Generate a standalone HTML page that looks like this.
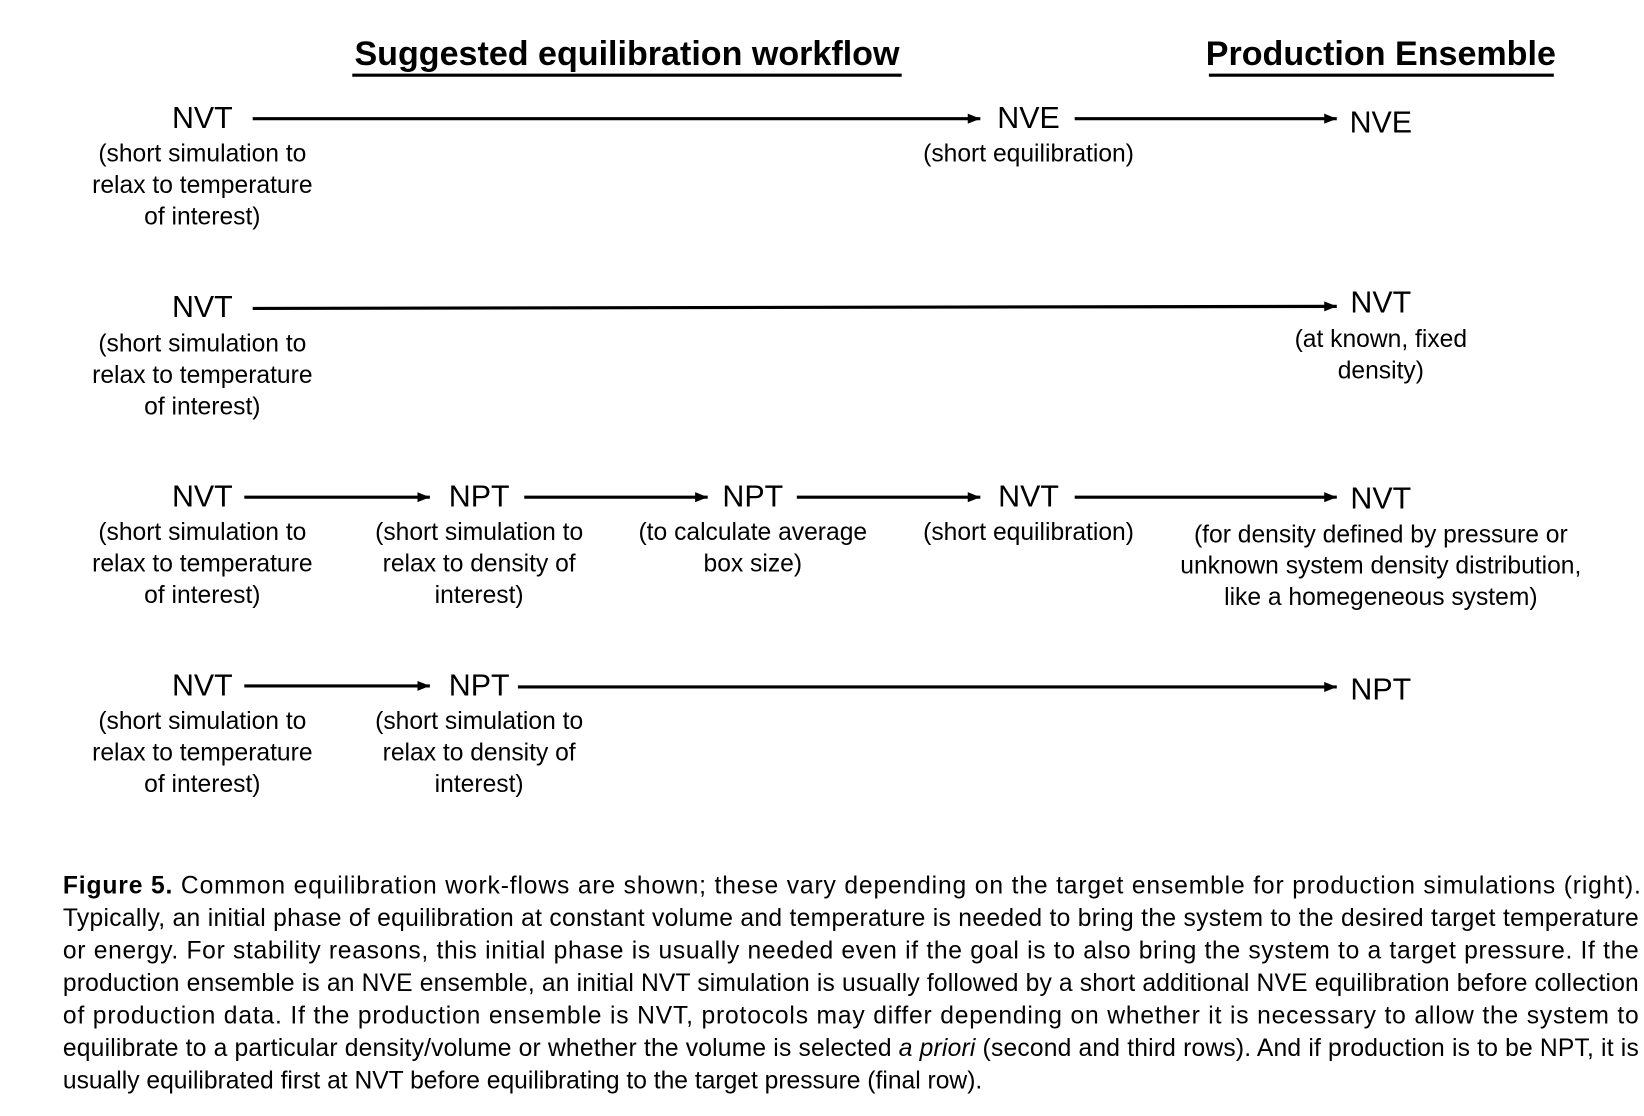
<!DOCTYPE html>
<html><head><meta charset="utf-8"><style>
html,body{margin:0;padding:0;background:#fff;}
svg{display:block;}
text{font-family:"Liberation Sans",sans-serif;fill:#000;}
.n{font-size:29px;text-anchor:middle;}
.s{font-size:23.5px;text-anchor:middle;}
.h{font-size:32.5px;font-weight:bold;text-anchor:middle;}
.c{font-size:23.5px;}
line{stroke:#000;stroke-width:3;}
</style></head><body>
<svg width="1644" height="1116" viewBox="0 0 1568 1064" xmlns="http://www.w3.org/2000/svg">
<defs><marker id="a" viewBox="0 0 10 10" refX="10" refY="5" markerWidth="4" markerHeight="3.2" orient="auto" markerUnits="strokeWidth" preserveAspectRatio="none"><path d="M0,0L10,5L0,10z" fill="#000"/></marker></defs>
<text class="h" x="598" y="62">Suggested equilibration workflow</text>
<rect x="336" y="70" width="524" height="3"/>
<text class="h" x="1317" y="62">Production Ensemble</text>
<rect x="1153" y="70" width="329" height="3"/>

<text class="n" x="193" y="122">NVT</text>
<text class="s" x="193" y="154">(short simulation to</text>
<text class="s" x="193" y="184">relax to temperature</text>
<text class="s" x="193" y="214">of interest)</text>
<line x1="241" y1="113" x2="935" y2="113" marker-end="url(#a)"/>
<text class="n" x="981" y="122">NVE</text>
<text class="s" x="981" y="154">(short equilibration)</text>
<line x1="1025" y1="113" x2="1275" y2="113" marker-end="url(#a)"/>
<text class="n" x="1317" y="126">NVE</text>

<text class="n" x="193" y="302">NVT</text>
<text class="s" x="193" y="335">(short simulation to</text>
<text class="s" x="193" y="365">relax to temperature</text>
<text class="s" x="193" y="395">of interest)</text>
<line x1="241" y1="294" x2="1275" y2="292" marker-end="url(#a)"/>
<text class="n" x="1317" y="298">NVT</text>
<text class="s" x="1317" y="331">(at known, fixed</text>
<text class="s" x="1317" y="361">density)</text>

<text class="n" x="193" y="483">NVT</text>
<text class="s" x="193" y="515">(short simulation to</text>
<text class="s" x="193" y="545">relax to temperature</text>
<text class="s" x="193" y="575">of interest)</text>
<line x1="233" y1="474" x2="410" y2="474" marker-end="url(#a)"/>
<text class="n" x="457" y="483">NPT</text>
<text class="s" x="457" y="515">(short simulation to</text>
<text class="s" x="457" y="545">relax to density of</text>
<text class="s" x="457" y="575">interest)</text>
<line x1="500" y1="474" x2="675" y2="474" marker-end="url(#a)"/>
<text class="n" x="718" y="483">NPT</text>
<text class="s" x="718" y="515">(to calculate average</text>
<text class="s" x="718" y="545">box size)</text>
<line x1="760" y1="474" x2="935" y2="474" marker-end="url(#a)"/>
<text class="n" x="981" y="483">NVT</text>
<text class="s" x="981" y="515">(short equilibration)</text>
<line x1="1025" y1="474" x2="1275" y2="474" marker-end="url(#a)"/>
<text class="n" x="1317" y="485">NVT</text>
<text class="s" x="1317" y="517">(for density defined by pressure or</text>
<text class="s" x="1317" y="547">unknown system density distribution,</text>
<text class="s" x="1317" y="577">like a homegeneous system)</text>

<text class="n" x="193" y="663">NVT</text>
<text class="s" x="193" y="695">(short simulation to</text>
<text class="s" x="193" y="725">relax to temperature</text>
<text class="s" x="193" y="755">of interest)</text>
<line x1="233" y1="654" x2="410" y2="654" marker-end="url(#a)"/>
<text class="n" x="457" y="663">NPT</text>
<text class="s" x="457" y="695">(short simulation to</text>
<text class="s" x="457" y="725">relax to density of</text>
<text class="s" x="457" y="755">interest)</text>
<line x1="494" y1="655" x2="1275" y2="655" marker-end="url(#a)"/>
<text class="n" x="1317" y="667">NPT</text>

<text class="c" x="60" y="852" textLength="1505" lengthAdjust="spacing"><tspan font-weight="bold">Figure 5.</tspan>  Common equilibration work-flows are shown; these vary depending on the target ensemble for production simulations (right).</text>
<text class="c" x="60" y="883" textLength="1503" lengthAdjust="spacing">Typically, an initial phase of equilibration at constant volume and temperature is needed to bring the system to the desired target temperature</text>
<text class="c" x="60" y="914" textLength="1503" lengthAdjust="spacing">or energy.  For stability reasons, this initial phase is usually needed even if the goal is to also bring the system to a target pressure.  If the</text>
<text class="c" x="60" y="945" textLength="1503" lengthAdjust="spacing">production ensemble is an NVE ensemble, an initial NVT simulation is usually followed by a short additional NVE equilibration before collection</text>
<text class="c" x="60" y="976" textLength="1503" lengthAdjust="spacing">of production data.  If the production ensemble is NVT, protocols may differ depending on whether it is necessary to allow the system to</text>
<text class="c" x="60" y="1007" textLength="1503" lengthAdjust="spacing">equilibrate to a particular density/volume or whether the volume is selected <tspan font-style="italic">a priori</tspan> (second and third rows). And if production is to be NPT, it is</text>
<text class="c" x="60" y="1038">usually equilibrated first at NVT before equilibrating to the target pressure (final row).</text>
</svg>
</body></html>
